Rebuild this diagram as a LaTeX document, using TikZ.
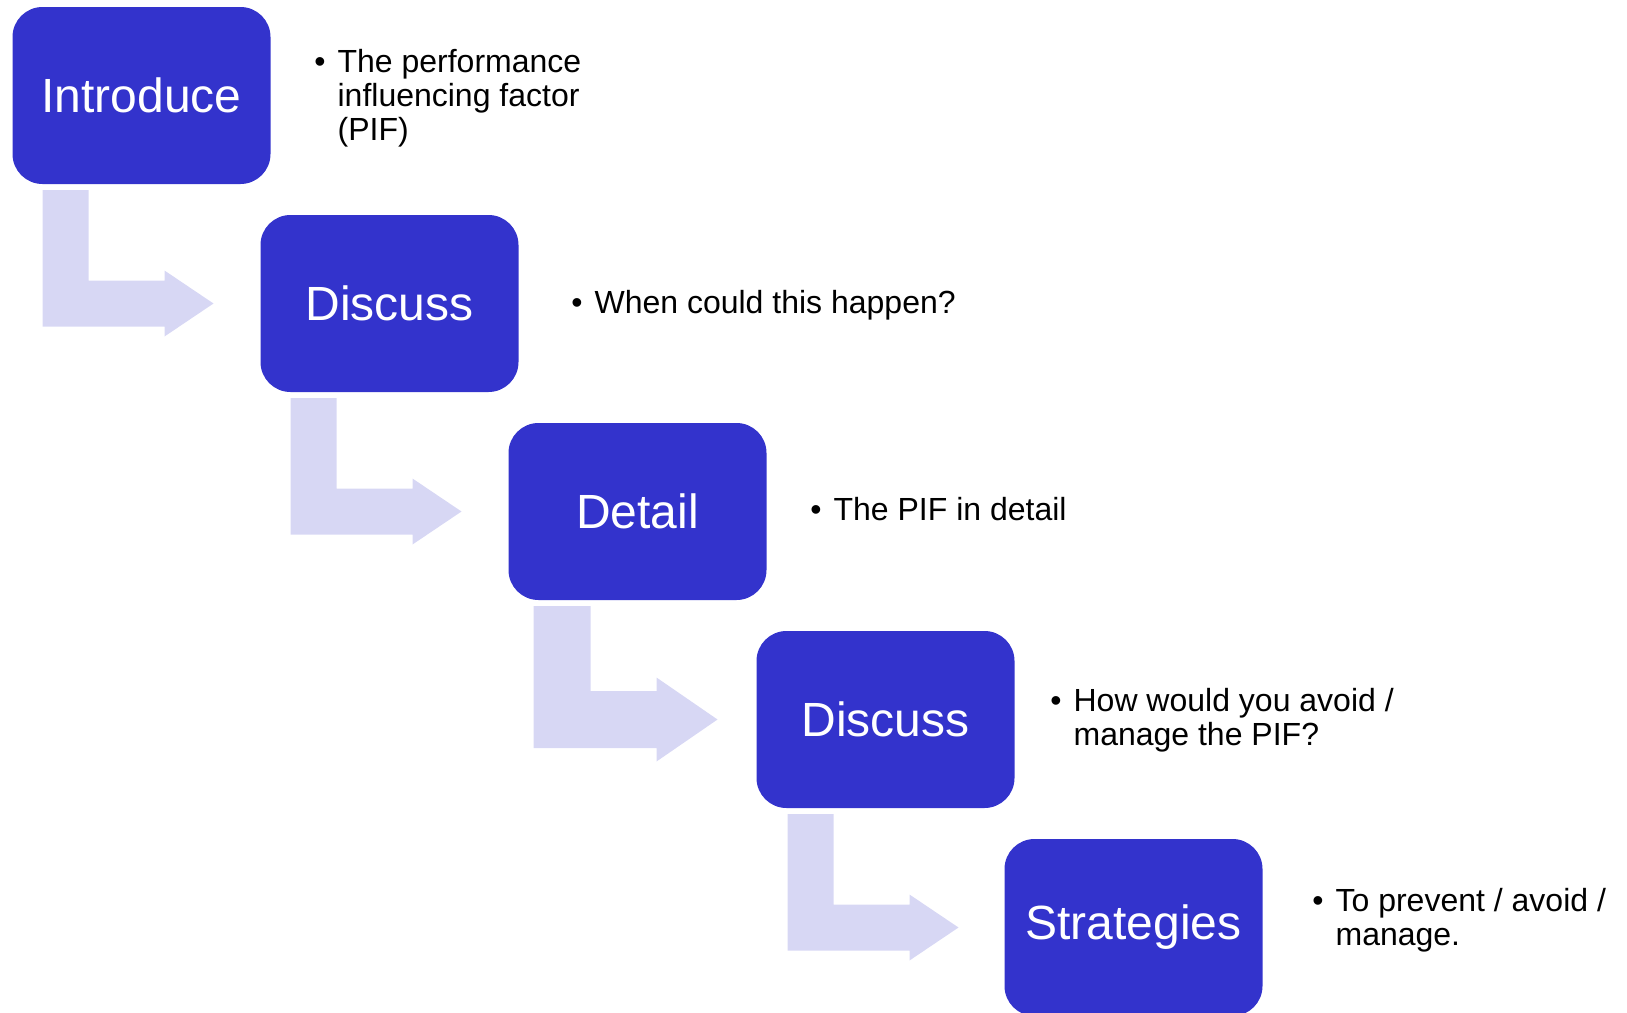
\documentclass[tikz,border=0pt]{standalone}
\usepackage{fontspec}
\setmainfont{Liberation Sans}
\usetikzlibrary{positioning,calc}
\definecolor{stepblue}{RGB}{51,51,204}
\definecolor{elbowlilac}{RGB}{215,215,244}
\tikzset{
  stage/.style={
    fill=stepblue,
    text=white,
    rounded corners=15pt,
    minimum width=129pt,
    minimum height=88.5pt,
    inner sep=0pt,
    outer sep=0pt,
    font=\fontsize{24}{28}\selectfont
  },
  point/.style={
    anchor=west,
    inner sep=0pt,
    align=left,
    font=\fontsize{16}{17}\selectfont
  },
  elbow/.style={fill=elbowlilac}
}
\newcommand{\pointlist}[1]{\begin{tabular}{@{}l@{\hspace{6pt}}l@{}}\textbullet & #1\end{tabular}}

\begin{document}
\begin{tikzpicture}[x=0.5pt, y=-0.5pt]
\useasboundingbox (0,0) rectangle (1627,1012);

% stages, stepping down to the right
\node[stage, anchor=north west] (intro) at (12.5,7) {Introduce};
\node[stage, below right=15.5pt and -5pt of intro] (discussA) {Discuss};
\node[stage, below right=15.5pt and -5pt of discussA] (detail) {Detail};
\node[stage, below right=15.5pt and -5pt of detail] (discussB) {Discuss};
\node[stage, below right=15.5pt and -5pt of discussB] (strategies) {Strategies};

% bullet notes beside each stage
\node[point] (introNote) at (314,100) {\pointlist{The performance\\ & influencing factor\\ & (PIF)}};
\node[point] (discussANote) at (571,307) {\pointlist{When could this happen?}};
\node[point] (detailNote) at (810,514) {\pointlist{The PIF in detail}};
\node[point] (discussBNote) at (1050,722) {\pointlist{How would you avoid /\\ & manage the PIF?}};
\node[point] (strategiesNote) at (1312,922) {\pointlist{To prevent / avoid /\\ & manage.}};

% elbow arrows from one stage to the next
% (left offset, bar width, head half height, head length, gap to next stage)
\foreach \a/\b/\o/\w/\h/\l/\g in {intro/discussA/30/23/16.5/24.5/23.5,
    discussA/detail/30/23/16.5/24.5/23.5,
    detail/discussB/25/28.5/21/30.5/19.5,
    discussB/strategies/31/23/16.5/24.5/23}
  \fill[elbow] let \p1=($(\a.south west)+(\o,6)$), \p2=(\b.west) in
    (\x1,\y1) -- (\x1+\w pt,\y1) -- (\x1+\w pt,\y2+\w pt/2) -- (\x2-\g pt-\l pt,\y2+\w pt/2)
    -- (\x2-\g pt-\l pt,\y2+\h pt) -- (\x2-\g pt,\y2) -- (\x2-\g pt-\l pt,\y2-\h pt)
    -- (\x2-\g pt-\l pt,\y2-\w pt/2) -- (\x1,\y2-\w pt/2) -- cycle;

\end{tikzpicture}
\end{document}
